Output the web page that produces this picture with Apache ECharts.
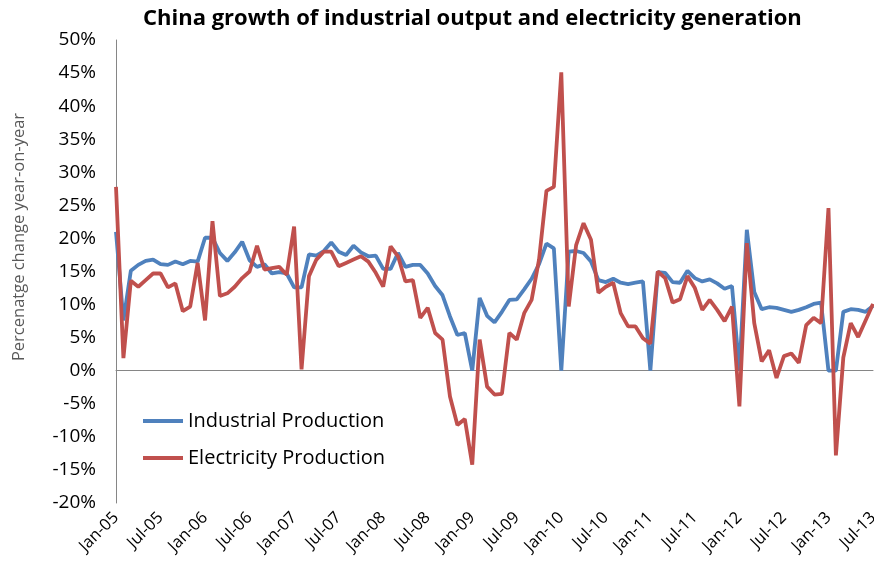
<!DOCTYPE html>
<html>
<head>
<meta charset="utf-8">
<script src="https://cdn.jsdelivr.net/npm/echarts@6/dist/echarts.min.js"></script>
<style>
html,body{margin:0;padding:0;background:#fff;overflow:hidden;}
#chart{width:874px;height:577px;}
</style>
</head>
<body>
<div id="chart"></div>
<script>
// ---- data ----
var monthNames = ['Jan','Feb','Mar','Apr','May','Jun','Jul','Aug','Sep','Oct','Nov','Dec'];
var years = ['05','06','07','08','09','10','11','12','13'];
var lastMonthIndex2013 = 6; // data ends Jul-13

var industrial = [
  21.0, 7.6, 15.1, 16.0, 16.6, 16.8, 16.1, 16.0, 16.5, 16.1, 16.6, 16.5,
  20.1, 20.1, 17.8, 16.6, 17.9, 19.5, 16.7, 15.7, 16.1, 14.7, 14.9, 14.7,
  12.6, 12.6, 17.6, 17.4, 18.1, 19.4, 18.0, 17.5, 18.9, 17.9, 17.3, 17.4,
  15.4, 15.4, 17.8, 15.7, 16.0, 16.0, 14.7, 12.8, 11.4, 8.2, 5.4, 5.7,
  0.0, 11.0, 8.3, 7.3, 8.9, 10.7, 10.8, 12.3, 13.9, 16.1, 19.2, 18.5,
  0.0, 18.0, 18.1, 17.8, 16.5, 13.7, 13.4, 13.9, 13.3, 13.1, 13.3, 13.5,
  0.0, 14.9, 14.8, 13.4, 13.3, 15.1, 14.0, 13.5, 13.8, 13.2, 12.4, 12.8,
  0.0, 21.3, 11.9, 9.3, 9.6, 9.5, 9.2, 8.9, 9.2, 9.6, 10.1, 10.3,
  0.0, 0.0, 8.9, 9.3, 9.2, 8.9, 9.8
];

var electricity = [
  27.8, 1.9, 13.6, 12.7, 13.7, 14.7, 14.7, 12.6, 13.2, 9.0, 9.7, 16.3,
  7.6, 22.6, 11.3, 11.7, 12.7, 14.0, 15.0, 18.9, 15.3, 15.5, 15.7, 14.5,
  21.8, 0.2, 14.3, 16.8, 18.0, 18.0, 15.8, 16.3, 16.8, 17.3, 16.5, 14.8,
  12.7, 18.8, 17.3, 13.5, 13.7, 8.0, 9.5, 5.7, 4.7, -3.9, -8.2, -7.3,
  -14.2, 4.7, -2.4, -3.6, -3.5, 5.7, 4.7, 8.7, 10.7, 16.8, 27.2, 27.8,
  45.1, 9.7, 19.0, 22.3, 19.8, 11.8, 12.7, 13.3, 8.7, 6.7, 6.7, 4.9,
  4.1, 15.0, 14.0, 10.3, 10.8, 14.3, 12.5, 9.2, 10.7, 9.2, 7.5, 9.7,
  -5.4, 19.3, 7.2, 1.4, 3.1, -1.1, 2.2, 2.6, 1.2, 6.9, 8.0, 7.2,
  24.6, -12.8, 2.0, 7.2, 5.1, 7.6, 10.1
];

var yMin = -20, yMax = 50, yStep = 5;
var seriesNames = ['Industrial Production', 'Electricity Production'];
var titleText = 'China growth of industrial output and electricity generation';
var yAxisTitle = 'Percenatge change year-on-year';

// category labels
var categories = [];
for (var y = 0; y < years.length; y++) {
  for (var m = 0; m < 12; m++) {
    if (y === years.length - 1 && m > lastMonthIndex2013) break;
    categories.push(monthNames[m] + '-' + years[y]);
  }
}

var FONT = '"Open Sans", Lato, sans-serif';
var chart = echarts.init(document.getElementById('chart'), null, {renderer: 'canvas', width: 874, height: 577});
chart.setOption({
  backgroundColor: '#ffffff',
  animation: false,
  title: {
    text: titleText,
    left: 143, top: 8, padding: 0,
    textStyle: {fontFamily: FONT, fontWeight: 'bold', fontSize: 22, color: '#000'}
  },
  legend: {
    orient: 'vertical',
    left: 143, top: 411, padding: 0,
    itemWidth: 40, itemHeight: 4, itemGap: 17,
    icon: 'rect',
    textStyle: {fontFamily: FONT, fontSize: 20, color: '#000'},
    data: seriesNames
  },
  grid: {left: 116, right: 1, top: 40, bottom: 74, containLabel: false, outerBoundsMode: 'none'},
  graphic: [{
    type: 'text',
    x: 19, y: 237,
    rotation: Math.PI / 2,
    style: {text: yAxisTitle, fontFamily: FONT, fontSize: 16.5, fill: '#595959', align: 'center', verticalAlign: 'middle'}
  }],
  xAxis: [{
    type: 'category',
    data: categories,
    boundaryGap: false,
    position: 'bottom',
    axisLine: {show: false, onZero: false},
    axisTick: {show: false},
    axisLabel: {interval: 5, rotate: 45, fontFamily: FONT, fontSize: 16.5, color: '#000', margin: 12}
  }, {
    type: 'category',
    data: categories,
    boundaryGap: false,
    position: 'bottom',
    axisLine: {show: true, onZero: true, lineStyle: {color: '#868686', width: 1}},
    axisTick: {show: false},
    axisLabel: {show: false}
  }],
  yAxis: {
    type: 'value',
    min: yMin, max: yMax, interval: yStep,
    axisLine: {show: true, lineStyle: {color: '#868686', width: 1}},
    axisTick: {show: false},
    splitLine: {show: false},
    axisLabel: {formatter: '{value}%', fontFamily: FONT, fontSize: 19, color: '#000', margin: 20}
  },
  series: [{
    name: seriesNames[0],
    type: 'line',
    data: industrial,
    symbol: 'none',
    lineStyle: {color: '#4F81BD', width: 3.8},
    itemStyle: {color: '#4F81BD'},
    z: 2
  }, {
    name: seriesNames[1],
    type: 'line',
    data: electricity,
    symbol: 'none',
    lineStyle: {color: '#C0504D', width: 3.8},
    itemStyle: {color: '#C0504D'},
    z: 3
  }]
});
</script>
</body>
</html>
